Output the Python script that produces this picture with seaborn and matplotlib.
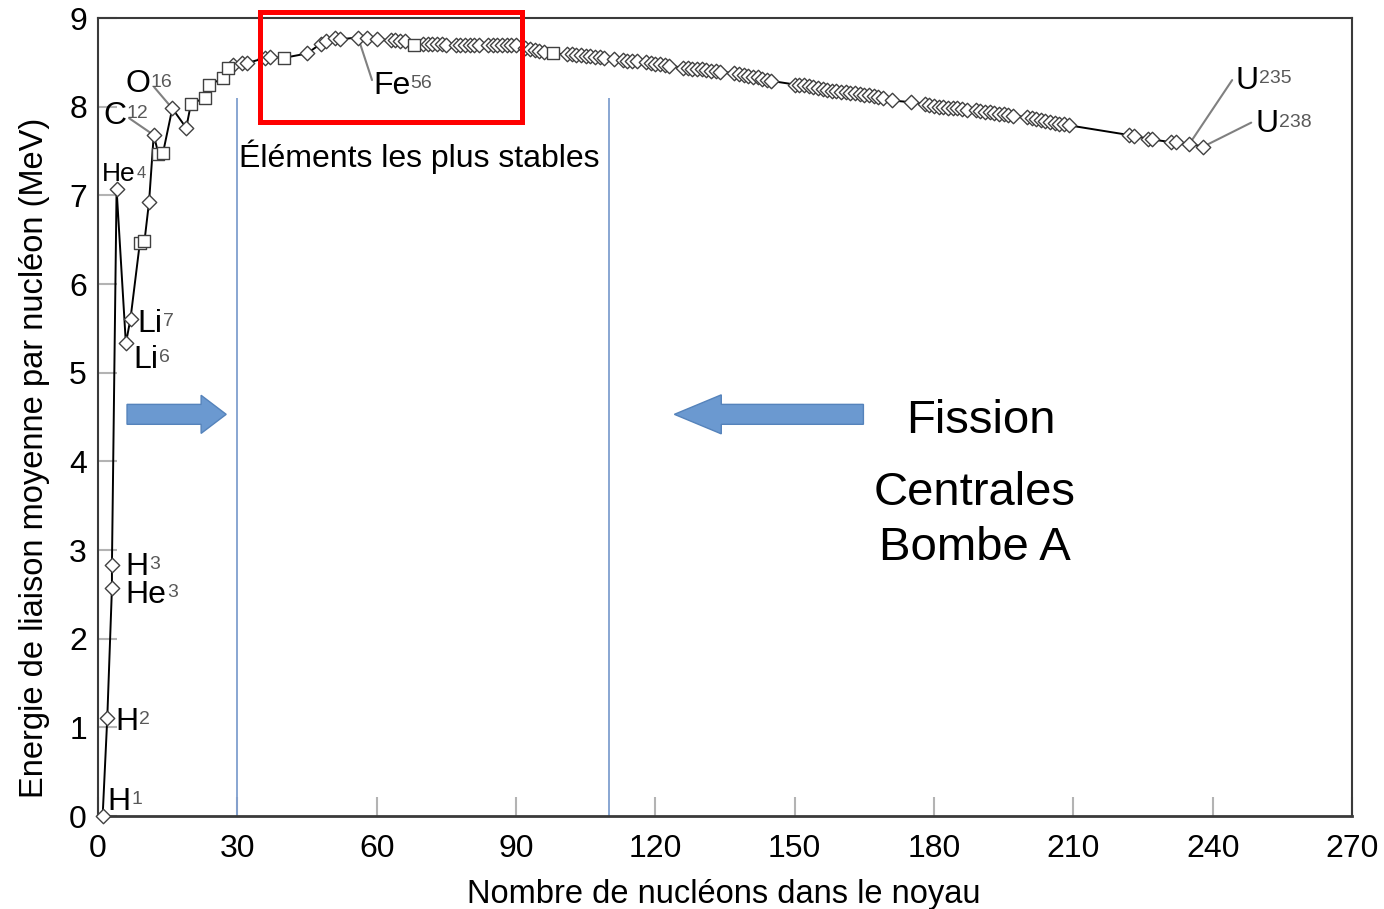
import numpy as np
import pandas as pd
import matplotlib
matplotlib.use('Agg')
import matplotlib.pyplot as plt
import seaborn as sns
from matplotlib.patches import FancyArrow, Rectangle

# ---------------- data ----------------
nucleons = [1, 2, 3, 3, 4, 6, 7, 9, 10, 11, 12, 13, 14, 16, 19, 20, 23, 24, 27, 28,
            29, 31, 32, 36, 37, 40, 45, 48, 49, 51, 52, 56, 58, 60, 63, 64, 65, 66, 68,
            70, 71, 72, 73, 74, 75, 77, 78, 79, 80, 81, 82, 84, 85, 86, 87, 88, 89, 90,
            92, 93, 94, 95, 96, 98, 101, 102, 103, 104, 105, 106, 107, 108, 109, 111,
            113, 114, 115, 116, 118, 119, 120, 121, 122, 123, 126, 127, 128, 129, 130,
            131, 132, 133, 134, 137, 138, 139, 140, 141, 142, 143, 144, 145, 150, 151,
            152, 153, 154, 155, 156, 157, 158, 159, 160, 161, 162, 163, 164, 165, 166,
            167, 168, 169, 171, 175, 178, 179, 180, 181, 182, 183, 184, 185, 186, 187,
            189, 190, 191, 192, 193, 194, 195, 196, 197, 200, 201, 202, 203, 204, 205,
            206, 207, 208, 209, 222, 223, 226, 227, 231, 232, 235, 238]
energy = [0.00, 1.11, 2.57, 2.83, 7.07, 5.33, 5.61, 6.46, 6.48, 6.93, 7.68, 7.47, 7.48,
          7.98, 7.76, 8.03, 8.10, 8.25, 8.32, 8.44,
          8.47, 8.49, 8.49, 8.55, 8.56, 8.55, 8.60, 8.71, 8.74, 8.77, 8.76, 8.78, 8.77,
          8.76, 8.75, 8.75, 8.74, 8.74, 8.69,
          8.71, 8.71, 8.71, 8.71, 8.71, 8.70, 8.70, 8.70, 8.69, 8.69, 8.69, 8.69, 8.70,
          8.70, 8.70, 8.70, 8.70, 8.69, 8.69,
          8.66, 8.65, 8.64, 8.63, 8.62, 8.60, 8.59, 8.59, 8.58, 8.58, 8.57, 8.57, 8.56,
          8.56, 8.55, 8.54,
          8.53, 8.52, 8.52, 8.51, 8.50, 8.49, 8.48, 8.48, 8.47, 8.46, 8.44, 8.44, 8.43,
          8.42, 8.42,
          8.41, 8.40, 8.40, 8.39, 8.38, 8.37, 8.36, 8.35, 8.34, 8.33, 8.31, 8.30, 8.29,
          8.25, 8.24,
          8.24, 8.23, 8.22, 8.21, 8.20, 8.19, 8.18, 8.18, 8.17, 8.16, 8.15, 8.15, 8.14,
          8.13, 8.13,
          8.12, 8.11, 8.10, 8.07, 8.05, 8.03, 8.02, 8.01, 8.00, 8.00, 7.99, 7.98, 7.98,
          7.97, 7.96,
          7.96, 7.95, 7.94, 7.94, 7.93, 7.92, 7.92, 7.91, 7.90, 7.88, 7.87, 7.86, 7.85,
          7.84, 7.83,
          7.82, 7.81, 7.80, 7.79, 7.68, 7.67, 7.64, 7.63, 7.60, 7.60, 7.58, 7.55]
square_nucleons = [9, 10, 13, 14, 20, 23, 24, 27, 28, 40, 68, 98]

stable_bounds = [30, 110]
x_ticks = list(range(0, 271, 30))
y_ticks = list(range(0, 10))

label_base = ['H', 'H', 'H', 'He', 'Li', 'Li', 'He', 'C', 'O', 'Fe', 'U', 'U']
label_sup = ['1', '2', '3', '3', '6', '7', '4', '12', '16', '56', '235', '238']

# ---------------- styling ----------------
sns.set_style('white')
plt.rcParams['font.family'] = ['Liberation Sans', 'DejaVu Sans']
plt.rcParams['text.color'] = 'black'
plt.rcParams['axes.labelcolor'] = 'black'
plt.rcParams['xtick.color'] = 'black'
plt.rcParams['ytick.color'] = 'black'

df = pd.DataFrame({'A': nucleons, 'E': energy})
df['kind'] = np.where(df['A'].isin(square_nucleons) & (df.index > 0), 's', 'D')

fig = plt.figure(figsize=(13.84, 9.09), dpi=100)
ax = fig.add_axes([98 / 1384, 1 - 816 / 909, 1254 / 1384, 798 / 909])

sns.lineplot(data=df, x='A', y='E', sort=False, estimator=None, color='black',
             lw=1.4, ax=ax, zorder=3)
dd = df[df['kind'] == 'D']
ss = df[df['kind'] == 's']
sns.scatterplot(data=dd, x='A', y='E', marker='D', s=54, color='white',
                edgecolor='#404040', linewidth=1.0, ax=ax, zorder=4, clip_on=False)
sns.scatterplot(data=ss, x='A', y='E', marker='s', s=72, color='white',
                edgecolor='#404040', linewidth=1.0, ax=ax, zorder=4, clip_on=False)

ax.set_xlim(0, 270)
ax.set_ylim(0, 9)
ax.set_xticks(x_ticks)
ax.set_yticks(y_ticks)
ax.tick_params(axis='both', direction='in', length=14, width=1.5, color='#b3b3b3',
               labelsize=23, labelcolor='black', bottom=True, left=True)
ax.tick_params(axis='x', pad=13)
ax.tick_params(axis='y', pad=8)
for sp in ax.spines.values():
    sp.set_color('#3a3a3a')
    sp.set_linewidth(1.5)
ax.spines['bottom'].set_linewidth(2.0)

ax.set_xlabel('Nombre de nucléons dans le noyau', fontsize=23.5, color='black')
ax.set_ylabel('Energie de liaison moyenne par nucléon (MeV)', fontsize=23.5, color='black')
ax.xaxis.set_label_coords(0.499, -0.079)
ax.yaxis.set_label_coords(-0.038, 0.449)

# stable-zone boundaries
ax.vlines(stable_bounds, 0, 8.1, color='#7f9fcf', lw=1.3, zorder=1)

# red box around the most stable elements
ax.add_patch(Rectangle((34.8, 7.83), 56.5, 1.24, fill=False, ec='#ff0000',
                       lw=3.6, clip_on=False, zorder=5))

ax.text(30.4, 7.43, 'Éléments les plus stables', fontsize=23, ha='left', va='center')
ax.text(190.0, 4.45, 'Fission', fontsize=34, ha='center', va='center')
ax.text(188.7, 3.645, 'Centrales', fontsize=34, ha='center', va='center')
ax.text(188.7, 3.025, 'Bombe A', fontsize=34, ha='center', va='center')

# arrows
ax.add_patch(FancyArrow(6.25, 4.53, 21.35, 0, width=0.225, head_width=0.43,
                        head_length=5.4, length_includes_head=True,
                        fc='#6b99d0', ec='#5583bb', lw=1.0, zorder=2))
ax.add_patch(FancyArrow(164.8, 4.53, -40.7, 0, width=0.225, head_width=0.44,
                        head_length=10.1, length_includes_head=True,
                        fc='#6b99d0', ec='#5583bb', lw=1.0, zorder=2))

# isotope labels (base text + grey superscript)
label_pos = [(2.1, 0.07), (3.8, 0.97), (6.0, 2.72), (6.0, 2.40), (7.6, 5.05),
             (8.5, 5.46), (0.9, 7.16), (1.1, 7.81), (5.9, 8.16), (59.2, 8.14),
             (245.0, 8.20), (249.2, 7.71)]
label_fs = [23, 23, 23, 23, 23, 23, 19, 23, 23, 23, 23, 23]
sup_fs = [14, 14, 14, 14, 14, 14, 12, 14, 14, 14, 14, 14]
for base, sup, (lx, ly), fs, sfs in zip(label_base, label_sup, label_pos, label_fs, sup_fs):
    t = ax.text(lx, ly, base, fontsize=fs, ha='left', va='baseline', zorder=6)
    ax.annotate(sup, xy=(1.0, 1.0), xycoords=t, xytext=(0.3, -3), textcoords='offset points',
                ha='left', va='top', fontsize=sfs, color='#595959', zorder=6)

# leader lines
def point_of(a):
    idx = [i for i, v in enumerate(nucleons) if v == a]
    return nucleons[idx[-1]], energy[idx[-1]]

leaders = [(16, (12.1, 8.22)), (12, (6.7, 7.87)), (56, (59.0, 8.30)),
           (235, (244.2, 8.30)), (238, (248.3, 7.82))]
for a, start in leaders:
    ax.annotate('', xy=point_of(a), xytext=start,
                arrowprops=dict(arrowstyle='-', color='#808080', lw=1.5,
                                shrinkA=0, shrinkB=0), zorder=2)

fig.savefig('out.png', dpi=100)
